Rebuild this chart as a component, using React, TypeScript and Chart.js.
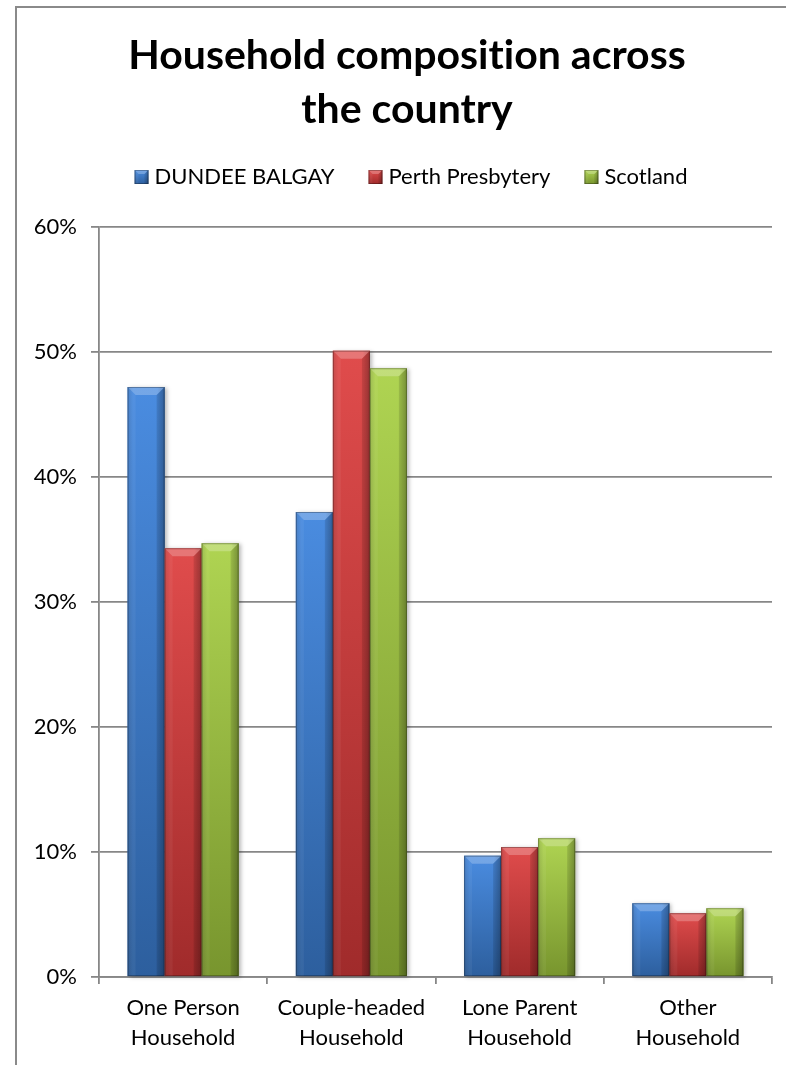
import React, { useEffect, useRef } from "react";
import { Chart, registerables } from "chart.js";

Chart.register(...registerables);

// ---------- data ----------
const categories: string[][] = [
  ["One Person", "Household"],
  ["Couple-headed", "Household"],
  ["Lone Parent", "Household"],
  ["Other", "Household"],
];
const seriesLabels = ["DUNDEE BALGAY", "Perth Presbytery", "Scotland"];
const dundeeBalgay = [47.2, 37.2, 9.7, 5.9];
const perthPresbytery = [34.3, 50.1, 10.4, 5.1];
const scotland = [34.7, 48.7, 11.1, 5.5];
const yMin = 0;
const yMax = 60;
const yStep = 10;
// ZWNJ keeps the font from merging "ti" into a ligature
const titleLines = ["Household composit\u200Cion across", "the country"];

// ---------- styles ----------
const FONT = "Lato";
const GRID = "#878787";
const palettes = [
  { light: "#4a8ce0", mid: "#3c7ccc", dark: "#2d5f9e" },
  { light: "#e04c4c", mid: "#d03d3d", dark: "#a02b2b" },
  { light: "#afd452", mid: "#9cc23e", dark: "#78952e" },
];

type Pal = { light: string; mid: string; dark: string };

function poly(ctx: CanvasRenderingContext2D, pts: number[][], fill: string) {
  ctx.beginPath();
  ctx.moveTo(pts[0][0], pts[0][1]);
  for (let i = 1; i < pts.length; i++) ctx.lineTo(pts[i][0], pts[i][1]);
  ctx.closePath();
  ctx.fillStyle = fill;
  ctx.fill();
}

function drawBevel(
  ctx: CanvasRenderingContext2D,
  l: number,
  t: number,
  w: number,
  h: number,
  pal: Pal,
  bevel: number,
  shadow: boolean
) {
  if (h <= 0 || w <= 0) return;
  const r = l + w;
  const b = t + h;
  ctx.save();
  if (shadow) {
    ctx.shadowColor = "rgba(0,0,0,0.28)";
    ctx.shadowBlur = 4;
    ctx.shadowOffsetX = 2;
    ctx.shadowOffsetY = 1;
  }
  const g = ctx.createLinearGradient(0, t, 0, b);
  g.addColorStop(0, pal.light);
  g.addColorStop(1, pal.dark);
  ctx.fillStyle = g;
  ctx.fillRect(l, t, w, h);
  ctx.restore();

  ctx.save();
  const hg = ctx.createLinearGradient(l, 0, r, 0);
  hg.addColorStop(0, "rgba(0,0,0,0.12)");
  hg.addColorStop(0.15, "rgba(0,0,0,0)");
  hg.addColorStop(0.8, "rgba(0,0,0,0)");
  hg.addColorStop(1, "rgba(0,0,0,0.22)");
  ctx.fillStyle = hg;
  ctx.fillRect(l, t, w, h);
  const bv = Math.min(bevel, h / 2, w / 3);
  poly(ctx, [[l, t], [r, t], [r - bv, t + bv], [l + bv, t + bv]], "rgba(255,255,255,0.24)");
  poly(ctx, [[l, t], [l + bv, t + bv], [l + bv, b], [l, b]], "rgba(255,255,255,0.05)");
  poly(ctx, [[r, t], [r, b], [r - bv, b], [r - bv, t + bv]], "rgba(0,0,0,0.12)");
  ctx.strokeStyle = "rgba(0,0,0,0.28)";
  ctx.lineWidth = 1;
  ctx.strokeRect(l + 0.5, t + 0.5, w - 1, h - 1);
  ctx.restore();
}

const bevelBars = {
  id: "bevelBars",
  afterDatasetsDraw(chart: any) {
    const ctx: CanvasRenderingContext2D = chart.ctx;
    chart.data.datasets.forEach((_ds: any, di: number) => {
      const meta = chart.getDatasetMeta(di);
      const pal = palettes[di % palettes.length];
      meta.data.forEach((el: any) => {
        const p = el.getProps(["x", "y", "width", "base"], true);
        const l = p.x - p.width / 2;
        const t = Math.min(p.y, p.base);
        const h = Math.abs(p.base - p.y);
        drawBevel(ctx, l, t, p.width, h, pal, 8, true);
      });
    });
  },
};

const frame = {
  id: "frame",
  beforeDraw(chart: any) {
    const ctx: CanvasRenderingContext2D = chart.ctx;
    ctx.save();
    ctx.strokeStyle = "#8a8a8a";
    ctx.lineWidth = 2;
    ctx.strokeRect(16, 7, chart.width + 10, chart.height + 10);
    ctx.restore();
  },
};

const customLegend = {
  id: "customLegend",
  afterDraw(chart: any) {
    const ctx: CanvasRenderingContext2D = chart.ctx;
    const size = 22;
    const box = 14;
    const gap = 6;
    const spacing = 34;
    ctx.save();
    ctx.font = `${size}px ${FONT}`;
    const labels: string[] = chart.data.datasets.map((d: any) => d.label);
    const widths = labels.map((s) => ctx.measureText(s).width);
    const total =
      widths.reduce((a, w) => a + box + gap + w, 0) + spacing * (labels.length - 1);
    const cx = (16 + chart.width) / 2 + 4;
    let x = cx - total / 2;
    const y = 177;
    labels.forEach((s, i) => {
      drawBevel(ctx, x, y - box / 2, box, box, palettes[i], 4, false);
      ctx.fillStyle = "#000";
      ctx.textBaseline = "middle";
      ctx.textAlign = "left";
      ctx.fillText(s, x + box + gap, y);
      x += box + gap + widths[i] + spacing;
    });
    ctx.restore();
  },
};

export default function App() {
  const ref = useRef<HTMLCanvasElement | null>(null);

  useEffect(() => {
    if (!ref.current) return;
    const series = [dundeeBalgay, perthPresbytery, scotland];
    const chart = new Chart(ref.current, {
      type: "bar",
      data: {
        labels: categories,
        datasets: series.map((values, i) => ({
          label: seriesLabels[i],
          data: values,
          backgroundColor: palettes[i].mid,
          borderWidth: 0,
          barPercentage: 1,
          categoryPercentage: 0.66,
        })),
      },
      plugins: [frame, bevelBars, customLegend],
      options: {
        responsive: false,
        animation: false,
        devicePixelRatio: 1,
        layout: { padding: { left: 16, right: 0, top: 7, bottom: 0 } },
        plugins: {
          legend: { display: false },
          tooltip: { enabled: false },
          title: {
            display: true,
            text: titleLines,
            color: "#000",
            font: { family: FONT, size: 41, weight: "bold", lineHeight: 54 / 41 },
            padding: { top: 22, bottom: 90 },
          },
        },
        scales: {
          x: {
            type: "category",
            offset: true,
            grid: {
              offset: true,
              drawOnChartArea: false,
              drawTicks: true,
              tickLength: 7,
              color: GRID,
              lineWidth: 1.8,
            },
            border: { display: true, color: GRID, width: 1.8 },
            ticks: {
              color: "#000",
              font: { family: FONT, size: 22, lineHeight: 30 / 22 },
              padding: 9,
              maxRotation: 0,
              autoSkip: false,
            },
            afterFit: (s: any) => {
              s.height = 88;
            },
          },
          y: {
            type: "linear",
            min: yMin,
            max: yMax,
            ticks: {
              stepSize: yStep,
              callback: (v: any) => `${v}%`,
              color: "#000",
              font: { family: FONT, size: 22 },
              padding: 14,
            },
            grid: { color: GRID, lineWidth: 1.8, tickLength: 8 },
            border: { display: true, color: GRID, width: 1.8 },
            afterFit: (s: any) => {
              s.width = 83;
            },
          },
          rightPad: {
            type: "linear",
            position: "right",
            display: true,
            grid: { display: false, drawTicks: false },
            ticks: { display: false },
            border: { display: false },
            afterFit: (s: any) => {
              s.width = 26;
            },
          },
        },
      } as any,
    });
    return () => chart.destroy();
  }, []);

  return (
    <div
      style={{
        position: "fixed",
        left: 0,
        top: 0,
        width: 786,
        height: 1065,
        overflow: "hidden",
        background: "#fff",
      }}
    >
      <canvas ref={ref} width={798} height={1065} style={{ display: "block" }} />
    </div>
  );
}
